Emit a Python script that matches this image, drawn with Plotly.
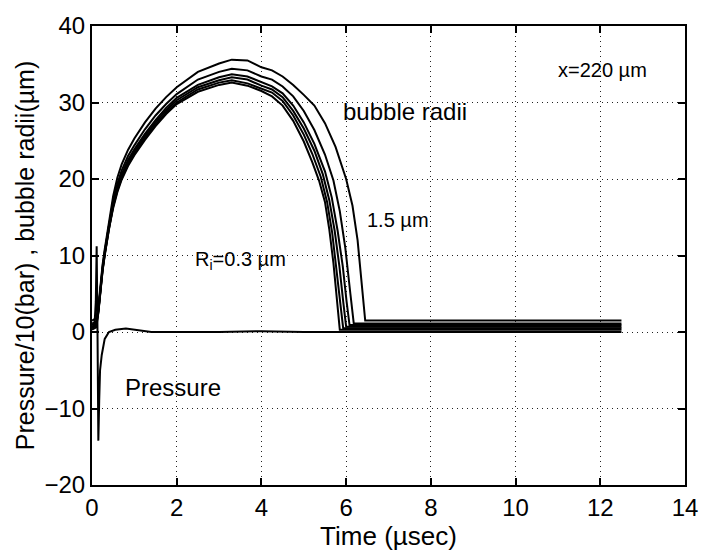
import plotly.graph_objects as go

# ---------------- data ----------------
t_rise = [0, 0.1, 0.15, 0.2, 0.25, 0.3, 0.4, 0.5, 0.6, 0.7, 0.85, 1.0, 1.25,
          1.5, 1.75, 2.0, 2.5, 3.0, 3.3, 3.67, 4.0]

# bubble radius curves (um), initial radius R_i in um
r_03_rise = [0.3, 0.6, 2.5, 5.5, 8.0, 10.0, 13.5, 16.2, 18.3, 19.9, 21.7, 23.1, 25.1,
             26.9, 28.5, 29.8, 31.4, 32.3, 32.6, 32.2, 31.5]
r_03_fall_t = [4.25, 4.5, 4.75, 5.0, 5.2, 5.36, 5.5, 5.6, 5.7, 5.78, 5.85, 12.5]
r_03_fall = [30.8, 29.6, 27.6, 24.9, 22.2, 19.8, 17.0, 13.5, 9.0, 4.5, 0.3, 0.3]

r_05_rise = [0.5, 0.8, 2.6, 5.6, 8.1, 10.1, 13.6, 16.4, 18.5, 20.1, 21.9, 23.3, 25.3,
             27.1, 28.7, 30.0, 31.7, 32.6, 32.9, 32.5, 31.8]
r_05_fall_t = [4.25, 4.5, 4.75, 5.0, 5.2, 5.4, 5.55, 5.67, 5.77, 5.86, 5.93, 12.5]
r_05_fall = [31.3, 30.2, 28.3, 25.8, 23.3, 20.3, 17.0, 13.0, 8.5, 4.0, 0.5, 0.5]

r_07_rise = [0.7, 1.0, 2.7, 5.7, 8.2, 10.2, 13.7, 16.6, 18.7, 20.4, 22.2, 23.6, 25.6,
             27.4, 29.0, 30.3, 32.0, 32.9, 33.3, 33.0, 32.2]
r_07_fall_t = [4.25, 4.5, 4.75, 5.0, 5.25, 5.45, 5.6, 5.73, 5.84, 5.93, 6.0, 12.5]
r_07_fall = [31.7, 30.7, 28.9, 26.6, 23.7, 20.6, 17.3, 13.2, 8.6, 4.0, 0.7, 0.7]

r_09_rise = [0.9, 1.2, 2.8, 5.8, 8.3, 10.3, 13.9, 16.8, 19.0, 20.6, 22.5, 23.9, 25.9,
             27.7, 29.3, 30.6, 32.3, 33.3, 33.7, 33.4, 32.6]
r_09_fall_t = [4.25, 4.5, 4.75, 5.0, 5.25, 5.5, 5.66, 5.8, 5.92, 6.01, 6.08, 12.5]
r_09_fall = [32.1, 31.2, 29.6, 27.4, 24.6, 21.0, 17.6, 13.2, 8.6, 4.0, 0.9, 0.9]

r_11_rise = [1.1, 1.4, 2.9, 5.9, 8.5, 10.5, 14.1, 17.2, 19.4, 21.1, 23.0, 24.4, 26.5,
             28.3, 29.8, 31.1, 33.0, 34.0, 34.4, 34.2, 33.4]
r_11_fall_t = [4.25, 4.5, 4.75, 5.0, 5.25, 5.5, 5.7, 5.85, 5.98, 6.1, 6.18, 12.5]
r_11_fall = [33.0, 32.1, 30.8, 28.9, 26.4, 23.2, 19.8, 15.8, 11.0, 5.0, 1.1, 1.1]

r_15_rise = [1.5, 1.8, 3.2, 6.2, 8.8, 10.8, 14.5, 17.8, 20.2, 21.9, 23.8, 25.3, 27.4,
             29.2, 30.7, 32.0, 34.0, 35.1, 35.6, 35.5, 34.6]
r_15_fall_t = [4.25, 4.5, 4.75, 5.0, 5.25, 5.5, 5.75, 6.0, 6.15, 6.27, 6.37, 6.45, 12.5]
r_15_fall = [34.2, 33.4, 32.3, 31.0, 29.6, 27.3, 24.2, 20.0, 16.5, 12.0, 6.5, 1.5, 1.5]

# pressure / 10 (bar)
t_pressure = [0, 0.06, 0.09, 0.11, 0.13, 0.15, 0.17, 0.19, 0.23, 0.3, 0.4, 0.55,
              0.8, 1.1, 1.4, 2.0, 3.0, 4.0, 5.0, 6.0, 8.0, 10.0, 12.5]
pressure = [0.5, 1.0, 4.0, 11.2, 0.0, -14.2, -9.0, -5.0, -3.0, -0.9, 0.0, 0.3,
            0.45, 0.2, 0.0, 0.0, 0.0, 0.1, 0.0, 0.0, 0.0, 0.0, 0.0]

x_ticks = [0, 2, 4, 6, 8, 10, 12, 14]
y_ticks = [-20, -10, 0, 10, 20, 30, 40]

curves = [
    ("R_i=0.3 um", r_03_rise, r_03_fall_t, r_03_fall),
    ("R_i=0.5 um", r_05_rise, r_05_fall_t, r_05_fall),
    ("R_i=0.7 um", r_07_rise, r_07_fall_t, r_07_fall),
    ("R_i=0.9 um", r_09_rise, r_09_fall_t, r_09_fall),
    ("R_i=1.1 um", r_11_rise, r_11_fall_t, r_11_fall),
    ("R_i=1.5 um", r_15_rise, r_15_fall_t, r_15_fall),
]

FONT = "Liberation Sans, Arial, Helvetica, sans-serif"

fig = go.Figure()
for name, rise, ft, fv in curves:
    fig.add_trace(go.Scatter(
        x=t_rise + ft, y=rise + fv, mode="lines", name=name,
        line=dict(color="black", width=2, shape="linear"),
        showlegend=False))

fig.add_trace(go.Scatter(
    x=t_pressure, y=pressure, mode="lines", name="Pressure",
    line=dict(color="black", width=2, shape="linear"), showlegend=False))

axis_common = dict(
    showline=True, linecolor="black", linewidth=2, mirror="ticks",
    ticks="inside", ticklen=7, tickwidth=1.5, tickcolor="black",
    showgrid=True, gridcolor="#222", griddash="1px,4px", gridwidth=1,
    zeroline=False, tickfont=dict(family=FONT, size=24, color="black"),
)

fig.update_xaxes(range=[0, 14], tickvals=x_ticks, ticktext=[str(v) for v in x_ticks],
                 title=dict(text="Time (µsec)", font=dict(family=FONT, size=26, color="black"),
                            standoff=2),
                 **axis_common)
fig.update_yaxes(range=[-20, 40], tickvals=y_ticks,
                 ticktext=[("−" + str(-v)) if v < 0 else str(v) for v in y_ticks],
                 title=dict(text="Pressure/10(bar) , bubble radii(µm)",
                            font=dict(family=FONT, size=25, color="black"), standoff=3),
                 **axis_common)

ann_font = dict(family=FONT, color="black")
annotations = [
    dict(x=12.05, y=34.3, text="x=220 µm", size=20),
    dict(x=7.4, y=28.8, text="bubble radii", size=24),
    dict(x=7.22, y=14.6, text="1.5 µm", size=20),
    dict(x=3.5, y=9.4, text="R<sub>i</sub>=0.3 µm", size=20),
    dict(x=1.92, y=-7.2, text="Pressure", size=24),
]
for a in annotations:
    fig.add_annotation(x=a["x"], y=a["y"], text=a["text"], showarrow=False,
                       xanchor="center", yanchor="middle",
                       font=dict(size=a["size"], **ann_font))

fig.update_layout(
    width=710, height=553,
    margin=dict(l=92, r=16, t=18, b=62),
    paper_bgcolor="white", plot_bgcolor="white",
    font=dict(family=FONT, color="black"),
)

fig.write_html("out.html")
